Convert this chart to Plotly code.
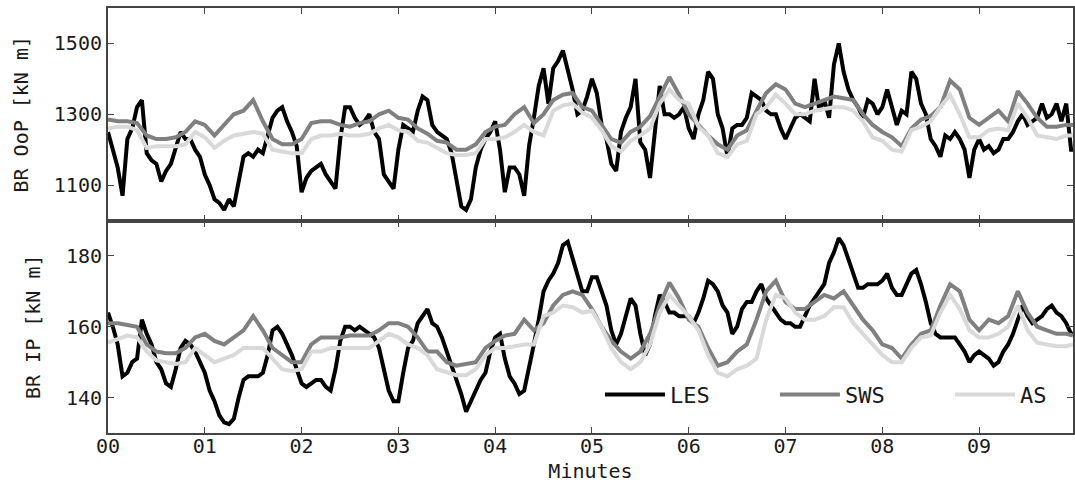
import plotly.graph_objects as go
from plotly.subplots import make_subplots

# ---------------- data ----------------
# time axis (minutes)
t_les = [round(i * 0.05, 2) for i in range(200)] + [9.97]
t_smooth = [round(i * 0.1, 1) for i in range(100)] + [9.97]

les_oop = [1250, 1200, 1150, 1070, 1230, 1260, 1320, 1340, 1190, 1170,
           1160, 1110, 1140, 1160, 1210, 1250, 1230, 1230, 1200, 1180,
           1130, 1100, 1060, 1050, 1030, 1060, 1040, 1110, 1180, 1190,
           1180, 1200, 1190, 1240, 1290, 1310, 1320, 1280, 1250, 1210,
           1080, 1120, 1140, 1150, 1160, 1130, 1110, 1090, 1230, 1320,
           1320, 1290, 1270, 1280, 1300, 1250, 1230, 1130, 1110, 1090,
           1200, 1270, 1260, 1250, 1310, 1350, 1340, 1270, 1250, 1240,
           1230, 1190, 1110, 1040, 1030, 1060, 1150, 1200, 1230, 1250,
           1280, 1200, 1080, 1150, 1150, 1130, 1070, 1210, 1290, 1380,
           1430, 1330, 1430, 1450, 1480, 1430, 1370, 1300, 1310, 1350,
           1400, 1360, 1270, 1230, 1160, 1140, 1250, 1290, 1320, 1400,
           1220, 1200, 1120, 1250, 1380, 1300, 1300, 1290, 1300, 1320,
           1260, 1230, 1300, 1340, 1420, 1400, 1300, 1260, 1180, 1260,
           1270, 1270, 1290, 1360, 1350, 1340, 1310, 1300, 1300, 1260,
           1230, 1260, 1290, 1300, 1290, 1280, 1400, 1310, 1340, 1290,
           1440, 1500, 1420, 1370, 1340, 1320, 1290, 1340, 1330, 1300,
           1320, 1370, 1320, 1270, 1310, 1300, 1420, 1400, 1330, 1300,
           1230, 1210, 1180, 1240, 1230, 1250, 1230, 1200, 1120, 1200,
           1230, 1200, 1210, 1190, 1200, 1230, 1230, 1250, 1280, 1300,
           1270, 1280, 1290, 1330, 1290, 1300, 1330, 1280, 1330, 1200,
           1200]

sws_oop = [1285, 1280, 1280, 1275, 1240, 1230, 1230, 1235, 1250, 1280,
           1270, 1240, 1270, 1300, 1310, 1340, 1280, 1230, 1215, 1215,
           1230, 1275, 1280, 1280, 1270, 1265, 1275, 1280, 1300, 1310,
           1290, 1285, 1260, 1245, 1225, 1220, 1200, 1200, 1215, 1250,
           1265, 1270, 1300, 1320, 1275, 1300, 1340, 1355, 1360, 1320,
           1310, 1270, 1230, 1220, 1250, 1265, 1295, 1350, 1405, 1355,
           1300, 1270, 1240, 1215, 1200, 1240, 1255, 1310, 1360, 1385,
           1370, 1330, 1320, 1330, 1340, 1350, 1345, 1340, 1300, 1270,
           1250, 1235, 1210, 1260, 1285, 1295, 1320, 1395, 1370, 1290,
           1270, 1290, 1310, 1280, 1365, 1330, 1290, 1265, 1265, 1270,
           1270]

as_oop = [1260, 1265, 1265, 1255, 1205, 1210, 1210, 1210, 1215, 1250,
          1235, 1205, 1225, 1240, 1245, 1250, 1245, 1200, 1195, 1190,
          1190, 1230, 1240, 1240, 1245, 1240, 1240, 1245, 1260, 1270,
          1255, 1250, 1225, 1220, 1205, 1190, 1185, 1185, 1190, 1230,
          1230, 1235, 1250, 1270, 1250, 1240, 1310, 1325, 1330, 1305,
          1290, 1255, 1210, 1195, 1225, 1240, 1260, 1330, 1370, 1340,
          1330, 1265, 1240, 1190, 1180, 1215, 1225, 1300, 1320, 1355,
          1330, 1300, 1300, 1310, 1315, 1320, 1320, 1310, 1280, 1235,
          1225, 1200, 1195, 1255, 1265, 1280, 1320, 1355, 1300, 1235,
          1235, 1255, 1260, 1255, 1330, 1290, 1240, 1235, 1230, 1240,
          1240]

les_ip = [164, 160, 155, 146, 147, 150, 151, 162, 158, 155,
          150, 148, 144, 143, 148, 154, 156, 155, 153, 150,
          147, 142, 139, 135, 133, 132.5, 134, 140, 145, 146,
          146, 146, 147, 152, 159, 160, 158, 155, 152, 148,
          144, 143, 144, 145, 145, 143, 142, 148, 156, 160,
          160, 159, 160, 159, 158, 157, 154, 148, 142, 139,
          139, 147, 154, 156, 161, 163, 165, 161, 160, 157,
          153, 149, 145, 141, 136, 139, 142, 145, 147, 153,
          157, 158, 151, 146, 144, 141, 142, 148, 155, 162,
          170, 173, 175, 178, 183, 184, 179, 174, 170, 170,
          174, 174, 170, 166, 159, 155, 158, 163, 168, 166,
          158, 152, 155, 163, 169, 167, 164, 164, 163, 163,
          163, 161, 164, 168, 173, 172, 170, 166, 164, 158,
          160, 165, 167, 167, 170, 172, 168, 166, 164, 162,
          161, 161, 160, 160, 163, 166, 168, 170, 172, 178,
          181, 185, 183, 179, 175, 171, 171, 172, 172, 172,
          173, 175, 171, 169, 169, 172, 175, 176, 172, 167,
          161, 158, 157, 157, 157, 157, 155, 153, 150, 152,
          153, 152, 151, 149, 150, 153, 155, 158, 162, 166,
          163, 161, 162, 163, 165, 166, 164, 163, 161, 158,
          158]

sws_ip = [161, 161, 160.5, 160, 155, 153, 152.5, 152.5, 154, 157,
          158, 156, 155, 157, 159, 163, 159, 154, 152, 150,
          150, 155, 157, 157, 157, 157.5, 157.5, 157.5, 159, 161,
          161, 160, 157, 153, 153, 150, 149, 149.5, 150, 154,
          156, 157.5, 158, 162, 159, 161, 166, 169, 170, 169,
          165, 160, 156, 153, 151, 153, 158, 166, 172.5, 168,
          162, 160, 154, 149, 150, 153, 155, 162, 170, 173,
          167, 165, 165, 167, 169, 168, 170, 166, 162, 159,
          155, 154, 151, 155, 158, 159, 166, 172, 170, 162,
          159, 162, 161, 163, 170, 164, 160, 159, 158, 158,
          157.5]

as_ip = [155.5, 156.5, 157.5, 157, 153, 150.5, 150, 149.5, 150, 154,
         152, 150, 151, 152, 154, 154, 154, 151, 148, 147.5,
         148, 153, 153, 154, 154, 154, 154, 154, 156, 158,
         157, 155, 154, 152, 148, 147, 146.3, 146.3, 148, 152,
         154, 154, 154.5, 155, 155, 163, 164, 166, 165.5, 164,
         164.5, 160, 154, 150, 148, 150, 155, 164, 169, 166,
         163, 159, 152, 147, 146, 148, 149, 151, 162, 169,
         168, 164, 162, 162, 163, 165.5, 165.5, 161, 158, 155,
         152, 150, 150, 154, 157, 157.5, 164, 169, 165, 159,
         157, 157, 158, 160, 166, 159, 155.5, 155, 154.5, 154.5,
         155]

x_tickvals = [0, 1, 2, 3, 4, 5, 6, 7, 8, 9]
x_ticktext = ["00", "01", "02", "03", "04", "05", "06", "07", "08", "09"]
oop_ticks = [1100, 1300, 1500]
ip_ticks = [140, 160, 180]

# ---------------- figure ----------------
FONT = "DejaVu Sans Mono"
TXT = "#1a1a1a"
C_LES, C_SWS, C_AS = "#000000", "#808080", "#d9d9d9"
LW = 4

fig = make_subplots(rows=2, cols=1, shared_xaxes=True, vertical_spacing=0)

series = [
    ("LES", C_LES, t_les, les_oop, les_ip, 100),
    ("SWS", C_SWS, t_smooth, sws_oop, sws_ip, 100),
    ("AS", C_AS, t_smooth, as_oop, as_ip, 40),
]
for name, col, tt, top, bot, lwid in series:
    fig.add_trace(go.Scatter(x=tt, y=top, mode="lines", name=name,
                             line=dict(color=col, width=LW), showlegend=False),
                  row=1, col=1)
    fig.add_trace(go.Scatter(x=tt, y=bot, mode="lines", name=name, legendwidth=lwid,
                             line=dict(color=col, width=LW), showlegend=True),
                  row=2, col=1)

axis_common = dict(showline=True, linecolor="#444444", linewidth=2, mirror="allticks",
                   ticks="inside", ticklen=6, tickwidth=1, tickcolor="#444444",
                   showgrid=False, zeroline=False,
                   tickfont=dict(family=FONT, size=20, color=TXT))

fig.update_xaxes(range=[0, 9.97], tickvals=x_tickvals, ticktext=x_ticktext, **axis_common)
fig.update_xaxes(showticklabels=False, row=1, col=1)
fig.update_xaxes(ticklabelstandoff=-6,
                 title=dict(text="Minutes", font=dict(family=FONT, size=20, color=TXT),
                            standoff=7), row=2, col=1)

fig.update_yaxes(**axis_common)
fig.update_yaxes(range=[1000, 1600], tickvals=oop_ticks,
                 title=dict(text="BR OoP [kN m]", font=dict(family=FONT, size=20, color=TXT),
                            standoff=20), row=1, col=1)
fig.update_yaxes(range=[130, 190], tickvals=ip_ticks,
                 title=dict(text="BR IP [kN m]", font=dict(family=FONT, size=20, color=TXT),
                            standoff=20), row=2, col=1)

fig.update_layout(
    width=1075, height=489,
    margin=dict(l=108, r=0, t=8, b=56),
    paper_bgcolor="white", plot_bgcolor="white",
    legend=dict(orientation="h", x=0.5098, xanchor="left", y=0.09, yanchor="middle",
                bgcolor="rgba(0,0,0,0)", font=dict(family=FONT, size=22, color=TXT),
                entrywidthmode="pixels", itemwidth=60, tracegroupgap=0),
    showlegend=True,
)

fig.write_html("out.html", config={"displayModeBar": False},
               post_script="document.body.style.margin='0px';")
